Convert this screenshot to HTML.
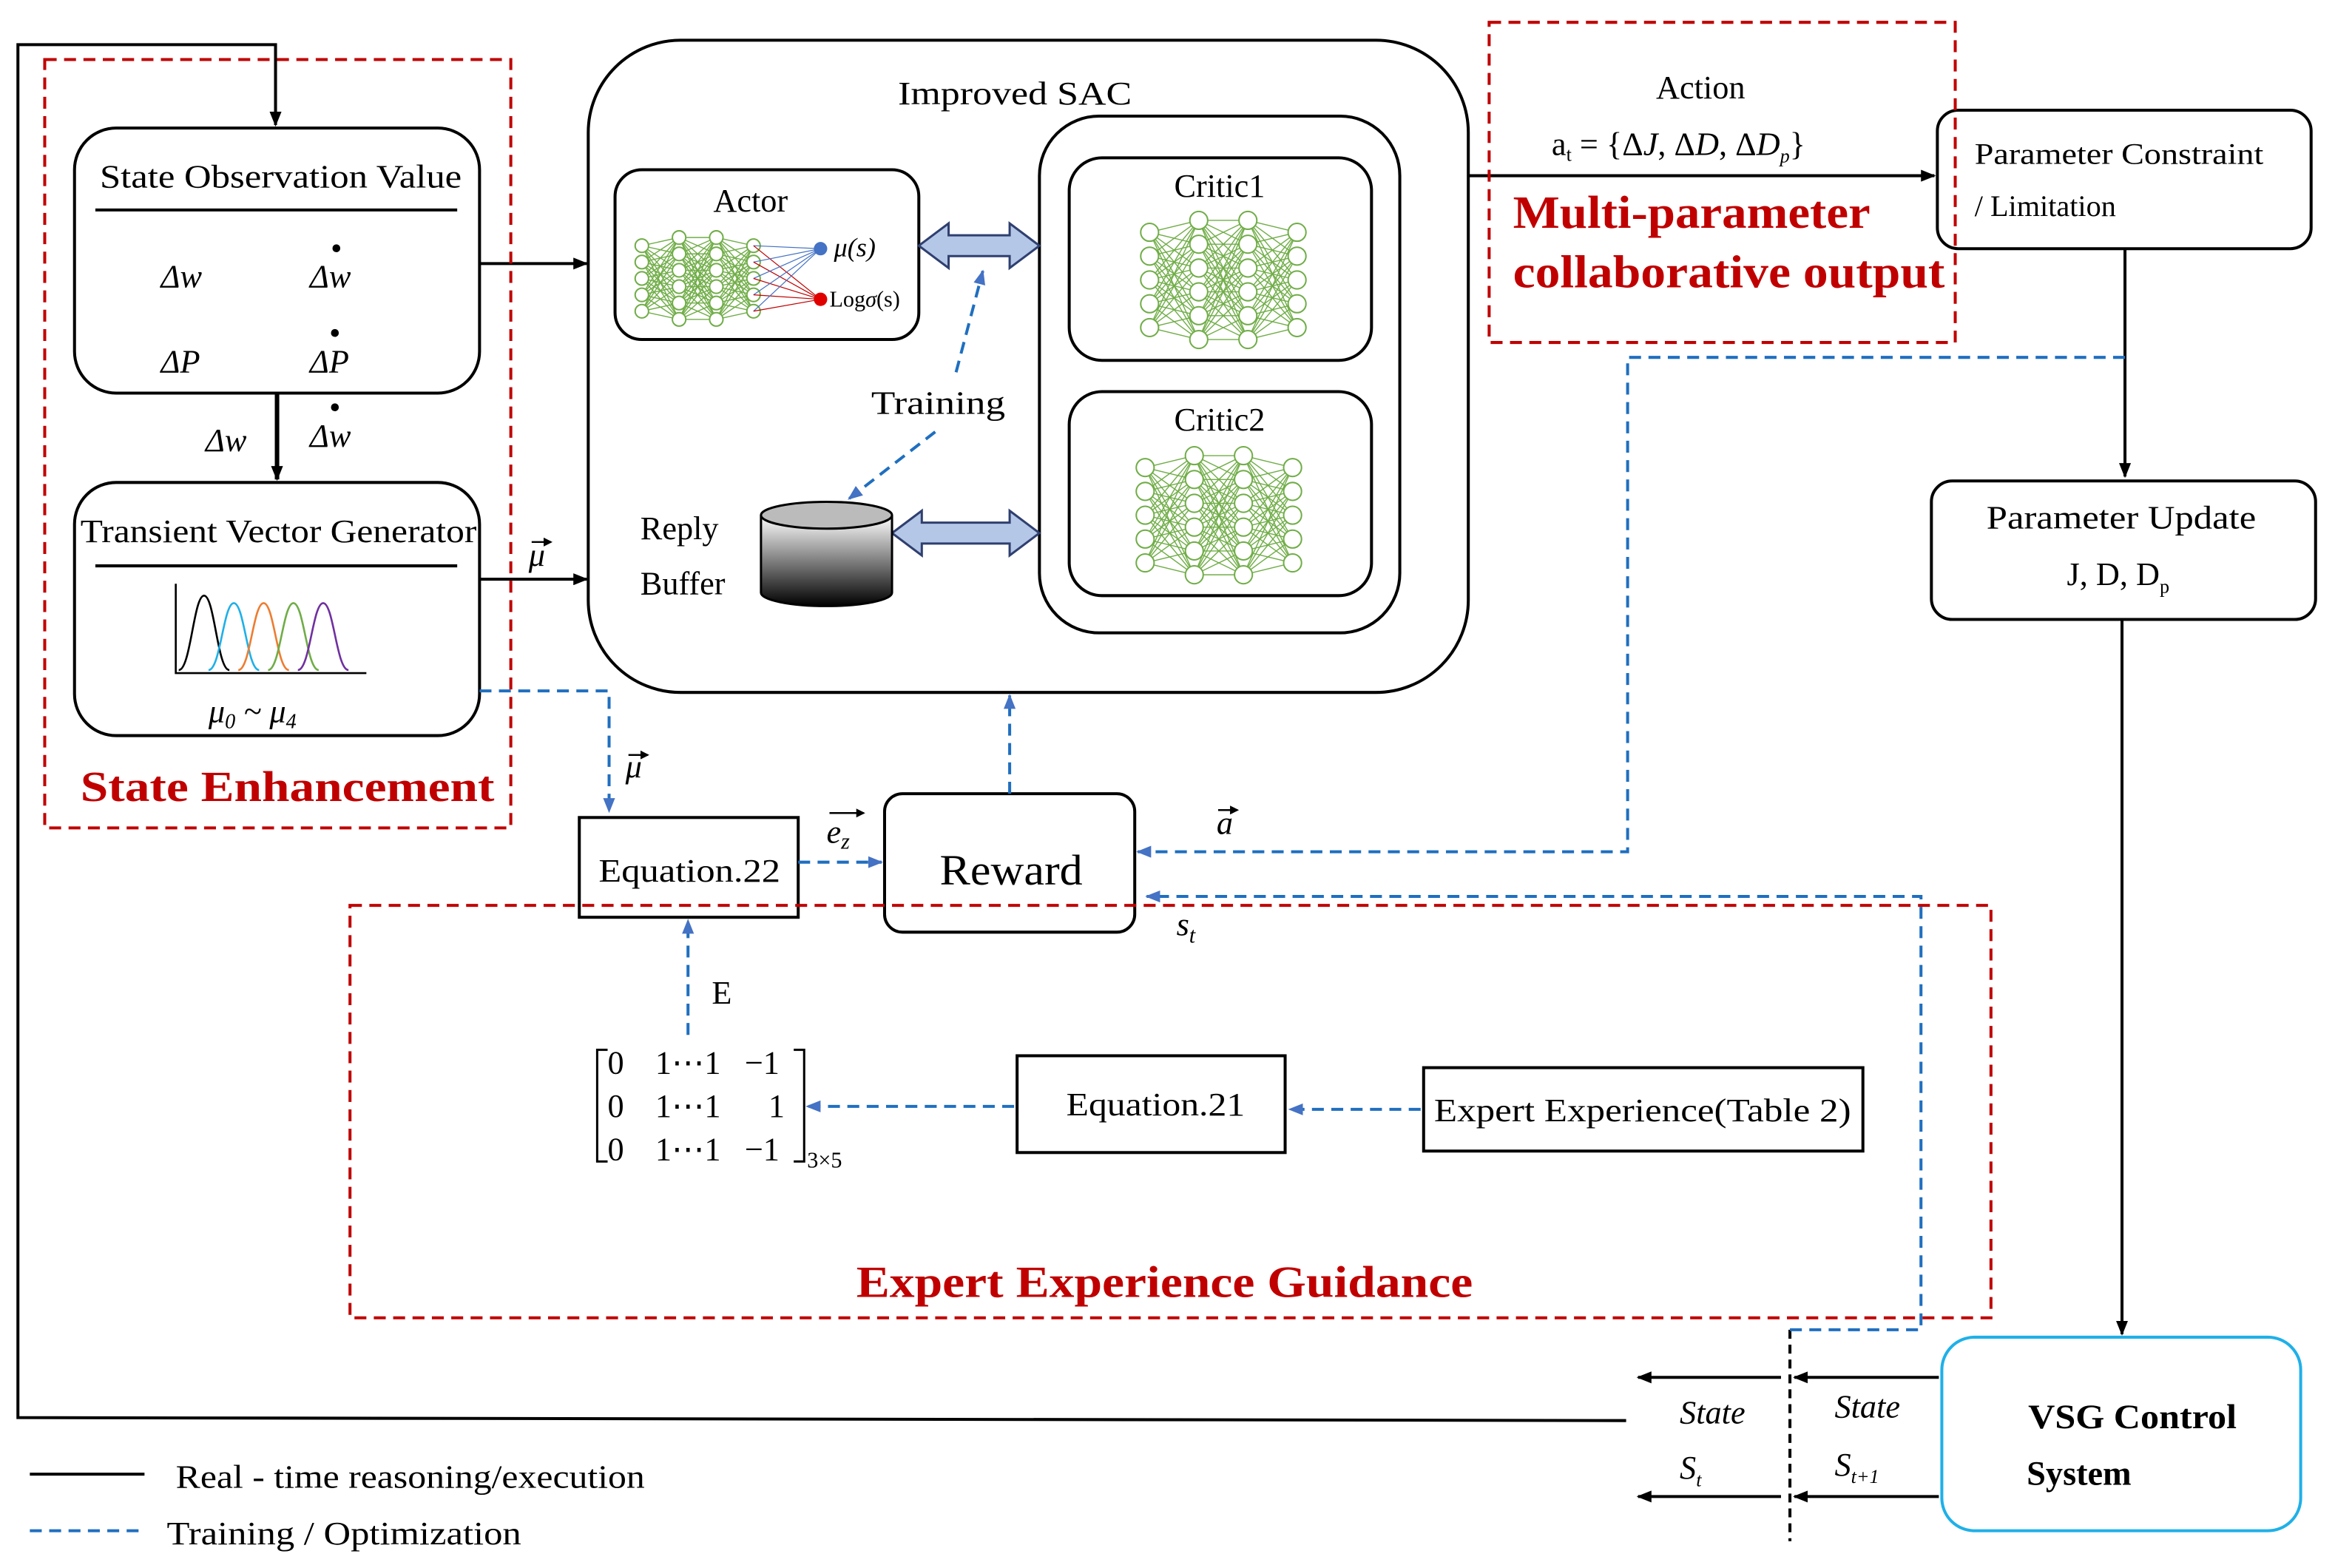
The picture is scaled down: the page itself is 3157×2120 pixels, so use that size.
<!DOCTYPE html>
<html><head><meta charset="utf-8">
<style>
html,body{margin:0;padding:0;background:#fff;}
svg{display:block;}
text{font-family:"Liberation Serif",serif;fill:#000;}
.b{font-weight:bold;fill:#c00000;}
</style></head>
<body>
<svg id="s" width="3157" height="2120" viewBox="0 0 1568 1053" xmlns="http://www.w3.org/2000/svg">
<defs>
<marker id="ak" markerWidth="10" markerHeight="8" refX="9" refY="4" orient="auto" markerUnits="userSpaceOnUse"><path d="M0,0 L10,4 L0,8 z" fill="#000"/></marker>
<marker id="ab" markerWidth="10" markerHeight="8" refX="9" refY="4" orient="auto" markerUnits="userSpaceOnUse"><path d="M0,0 L10,4 L0,8 z" fill="#4472c4"/></marker>
<marker id="as" markerWidth="6" markerHeight="6" refX="5" refY="3" orient="auto" markerUnits="userSpaceOnUse"><path d="M0,0 L6,3 L0,6 z" fill="#000"/></marker>
<linearGradient id="cyl" x1="0" y1="0" x2="0" y2="1"><stop offset="0" stop-color="#fff"/><stop offset="1" stop-color="#000"/></linearGradient>
</defs>
<g fill="none" stroke="#000" stroke-width="2">
<polyline points="1092,954 12,952 12,30 185,30 185,84" marker-end="url(#ak)"/>
<rect x="50" y="86" width="272" height="178" rx="28"/>
<rect x="50" y="324" width="272" height="170" rx="28"/>
<line x1="64" y1="141" x2="307" y2="141"/>
<line x1="64" y1="380" x2="307" y2="380"/>
<line x1="186" y1="264" x2="186" y2="322" stroke-width="3" marker-end="url(#ak)"/>
<line x1="322" y1="177" x2="394" y2="177" marker-end="url(#ak)"/>
<line x1="322" y1="389" x2="394" y2="389" marker-end="url(#ak)"/>
<rect x="395" y="27" width="591" height="438" rx="62"/>
<rect x="413" y="114" width="204" height="114" rx="18"/>
<rect x="698" y="78" width="242" height="347" rx="40"/>
<rect x="718" y="106" width="203" height="136" rx="22"/>
<rect x="718" y="263" width="203" height="137" rx="22"/>
<line x1="986" y1="118" x2="1299" y2="118" marker-end="url(#ak)"/>
<rect x="1301" y="74" width="251" height="93" rx="14"/>
<line x1="1427" y1="167" x2="1427" y2="320" marker-end="url(#ak)"/>
<rect x="1297" y="323" width="258" height="93" rx="14"/>
<line x1="1425" y1="416" x2="1425" y2="896" marker-end="url(#ak)"/>
<rect x="1304" y="898" width="241" height="130" rx="22" stroke="#1fb0e8"/>
<line x1="1302" y1="925" x2="1205" y2="925" marker-end="url(#ak)"/>
<line x1="1302" y1="1005" x2="1205" y2="1005" marker-end="url(#ak)"/>
<line x1="1196" y1="925" x2="1100" y2="925" marker-end="url(#ak)"/>
<line x1="1196" y1="1005" x2="1100" y2="1005" marker-end="url(#ak)"/>
<line x1="1202" y1="893" x2="1202" y2="1035" stroke-dasharray="6,4"/>
<rect x="594" y="533" width="168" height="93" rx="12"/>
<rect x="389" y="549" width="147" height="67"/>
<rect x="683" y="709" width="180" height="65"/>
<rect x="956" y="717" width="295" height="56"/>
<line x1="20" y1="990" x2="97" y2="990"/>
<polyline points="408,705 401,705 401,780 408,780" stroke-width="1.5"/>
<polyline points="533,705 540,705 540,780 533,780" stroke-width="1.5"/>
</g>
<!-- vector arrows over symbols -->
<g stroke="#000" stroke-width="1.2" fill="none">
<line x1="357" y1="364" x2="370" y2="364" marker-end="url(#as)"/>
<line x1="422" y1="507" x2="435" y2="507" marker-end="url(#as)"/>
<line x1="557" y1="546" x2="580" y2="546" marker-end="url(#as)"/>
<line x1="818" y1="544" x2="831" y2="544" marker-end="url(#as)"/>
</g>
<g fill="none" stroke="#c00000" stroke-width="2" stroke-dasharray="8,5">
<rect x="30" y="40" width="313" height="516"/>
<rect x="1000" y="15" width="313" height="215"/>
<rect x="235" y="608" width="1102" height="277"/>
</g>
<g fill="none" stroke="#1f6fc0" stroke-width="2" stroke-dasharray="8,5">
<polyline points="1427,240 1093,240 1093,572 764,572" marker-end="url(#ab)"/>
<polyline points="1202,893 1290,893 1290,602 770,602" marker-end="url(#ab)"/>
<line x1="678" y1="533" x2="678" y2="467" marker-end="url(#ab)"/>
<polyline points="322,464 409,464 409,545" marker-end="url(#ab)"/>
<line x1="536" y1="579" x2="592" y2="579" marker-end="url(#ab)"/>
<line x1="462" y1="695" x2="462" y2="618" marker-end="url(#ab)"/>
<line x1="681" y1="743" x2="542" y2="743" marker-end="url(#ab)"/>
<line x1="954" y1="745" x2="866" y2="745" marker-end="url(#ab)"/>
<line x1="628" y1="290" x2="570" y2="335" marker-end="url(#ab)"/>
<line x1="642" y1="250" x2="660" y2="182" marker-end="url(#ab)"/>
<line x1="20" y1="1028" x2="97" y2="1028"/>
</g>
<g fill="#b4c7e7" stroke="#2f3f6f" stroke-width="1.5">
<path d="M617,165 L637,150 L637,158 L678,158 L678,150 L698,165 L678,180 L678,172 L637,172 L637,180 z"/>
<path d="M599,358 L619,343 L619,351 L678,351 L678,343 L698,358 L678,373 L678,365 L619,365 L619,373 z"/>
</g>
<path d="M511,346 L511,398 A44,9 0 0 0 599,398 L599,346" fill="url(#cyl)" stroke="#000" stroke-width="1.5"/>
<ellipse cx="555" cy="346" rx="44" ry="9" fill="#bbb" stroke="#000" stroke-width="1.5"/>
<g fill="none" stroke-width="1.3">
<polyline points="118,392 118,452 246,452" stroke="#000"/>
<path d="M120,450 C128,450 130,400 137,400 C144,400 146,450 154,450" stroke="#000"/>
<path d="M140,450 C148,450 150,405 157,405 C164,405 166,450 174,450" stroke="#1fb0e8"/>
<path d="M160,450 C168,450 170,405 177,405 C184,405 186,450 194,450" stroke="#ed7d31"/>
<path d="M180,450 C188,450 190,405 197,405 C204,405 206,450 214,450" stroke="#70ad47"/>
<path d="M200,450 C208,450 210,405 217,405 C224,405 226,450 234,450" stroke="#7030a0"/>
</g>
<g id="nets"></g>
<g font-size="22">
<text x="67" y="126" textLength="243" lengthAdjust="spacingAndGlyphs">State Observation Value</text>
<text x="108" y="193" font-style="italic">Δw</text>
<text x="208" y="193" font-style="italic">Δw</text><text x="222" y="174">•</text>
<text x="108" y="250" font-style="italic">ΔP</text>
<text x="208" y="250" font-style="italic">ΔP</text><text x="221" y="231">•</text>
<text x="138" y="303" font-style="italic">Δw</text>
<text x="208" y="300" font-style="italic">Δw</text><text x="221" y="281">•</text>
<text x="54" y="364" textLength="266" lengthAdjust="spacingAndGlyphs">Transient Vector Generator</text>
<text x="140" y="485" font-style="italic">μ<tspan font-size="14" dy="4">0</tspan><tspan dy="-4"> ~ μ</tspan><tspan font-size="14" dy="4">4</tspan></text>
<text x="355" y="380" font-style="italic">μ</text>
<text x="603" y="70" textLength="157" lengthAdjust="spacingAndGlyphs">Improved SAC</text>
<text x="504" y="142" text-anchor="middle">Actor</text>
<text x="819" y="132" text-anchor="middle">Critic1</text>
<text x="819" y="289" text-anchor="middle">Critic2</text>
<text x="585" y="278" textLength="90" lengthAdjust="spacingAndGlyphs">Training</text>
<text x="430" y="362">Reply</text>
<text x="430" y="399">Buffer</text>
<text x="1142" y="66" text-anchor="middle">Action</text>
<text x="1042" y="104">a<tspan font-size="13" dy="4">t</tspan><tspan dy="-4"> = {Δ</tspan><tspan font-style="italic">J</tspan>, Δ<tspan font-style="italic">D</tspan>, Δ<tspan font-style="italic">D</tspan><tspan font-size="13" dy="5" font-style="italic">p</tspan><tspan dy="-5">}</tspan></text>
<text x="1334" y="355" textLength="181" lengthAdjust="spacingAndGlyphs">Parameter Update</text>
<text x="1388" y="393">J, D, D<tspan font-size="13" dy="5">p</tspan></text>
<text x="402" y="592" textLength="122" lengthAdjust="spacingAndGlyphs">Equation.22</text>
<text x="716" y="749" textLength="120" lengthAdjust="spacingAndGlyphs">Equation.21</text>
<text x="963" y="753" textLength="280" lengthAdjust="spacingAndGlyphs">Expert Experience(Table 2)</text>
<text x="478" y="674">E</text>
<text x="420" y="522" font-style="italic">μ</text>
<text x="555" y="566" font-style="italic">e<tspan font-size="15" dy="4">z</tspan></text>
<text x="817" y="560" font-style="italic">a</text>
<text x="790" y="628" font-style="italic">s<tspan font-size="15" dy="5">t</tspan></text>
<text x="408" y="721">0</text><text x="440" y="721">1⋯1</text><text x="500" y="721">−1</text>
<text x="408" y="750">0</text><text x="440" y="750">1⋯1</text><text x="516" y="750">1</text>
<text x="408" y="779">0</text><text x="440" y="779">1⋯1</text><text x="500" y="779">−1</text><text x="542" y="784" font-size="15">3×5</text>
<text x="1128" y="956" font-style="italic">State</text>
<text x="1128" y="993" font-style="italic">S<tspan font-size="13" dy="5">t</tspan></text>
<text x="1232" y="952" font-style="italic">State</text>
<text x="1232" y="991" font-style="italic">S<tspan font-size="13" dy="5">t+1</tspan></text>
<text x="118" y="999" textLength="315" lengthAdjust="spacingAndGlyphs">Real - time reasoning/execution</text>
<text x="112" y="1037" textLength="238" lengthAdjust="spacingAndGlyphs">Training / Optimization</text>
</g>
<text x="1326" y="110" font-size="20" textLength="194" lengthAdjust="spacingAndGlyphs">Parameter Constraint</text>
<text x="1326" y="145" font-size="20">/ Limitation</text>
<text x="560" y="172" font-size="18" font-style="italic">μ(s)</text>
<text x="557" y="206" font-size="15">Log<tspan font-style="italic">σ</tspan>(s)</text>
<text x="631" y="594" font-size="29" textLength="96" lengthAdjust="spacingAndGlyphs">Reward</text>
<text x="1362" y="959" font-size="23" font-weight="bold" textLength="140" lengthAdjust="spacingAndGlyphs">VSG Control</text>
<text x="1361" y="997" font-size="23" font-weight="bold">System</text>
<text class="b" x="54" y="538" font-size="29" textLength="278" lengthAdjust="spacingAndGlyphs">State Enhancement</text>
<text class="b" x="1016" y="153" font-size="31" textLength="240" lengthAdjust="spacingAndGlyphs">Multi-parameter</text>
<text class="b" x="1016" y="193" font-size="31" textLength="290" lengthAdjust="spacingAndGlyphs">collaborative output</text>
<text class="b" x="575" y="871" font-size="30" textLength="414" lengthAdjust="spacingAndGlyphs">Expert Experience Guidance</text>
</svg>
<script>
(function(){
var g=document.getElementById('nets'),h='';
function net(x0,dx,layers,cy,sp,r){
  var pts=layers.map(function(n,i){var a=[];for(var j=0;j<n;j++)a.push([x0+i*dx,cy+(j-(n-1)/2)*sp]);return a;});
  for(var i=0;i<pts.length-1;i++)pts[i].forEach(function(p){pts[i+1].forEach(function(q){h+='<line x1="'+p[0]+'" y1="'+p[1]+'" x2="'+q[0]+'" y2="'+q[1]+'" stroke="#70ad47" stroke-width="0.7"/>';});});
  pts.forEach(function(l){l.forEach(function(p){h+='<circle cx="'+p[0]+'" cy="'+p[1]+'" r="'+r+'" fill="#fff" stroke="#70ad47" stroke-width="1"/>';});});
}
net(431,25,[5,6,6,5],187,11,4.5);
net(772,33,[5,6,6,5],188,16,6);
net(769,33,[5,6,6,5],346,16,6);
for(var k=0;k<5;k++){var y=165+k*11;h+='<line x1="506" y1="'+y+'" x2="551" y2="167" stroke="#4472c4" stroke-width="0.6"/><line x1="506" y1="'+y+'" x2="551" y2="201" stroke="#c00000" stroke-width="0.6"/>';}
h+='<circle cx="551" cy="167" r="4.5" fill="#4472c4"/><circle cx="551" cy="201" r="4.5" fill="#e00000"/>';
g.innerHTML=h;
})();
</script>
</body></html>
